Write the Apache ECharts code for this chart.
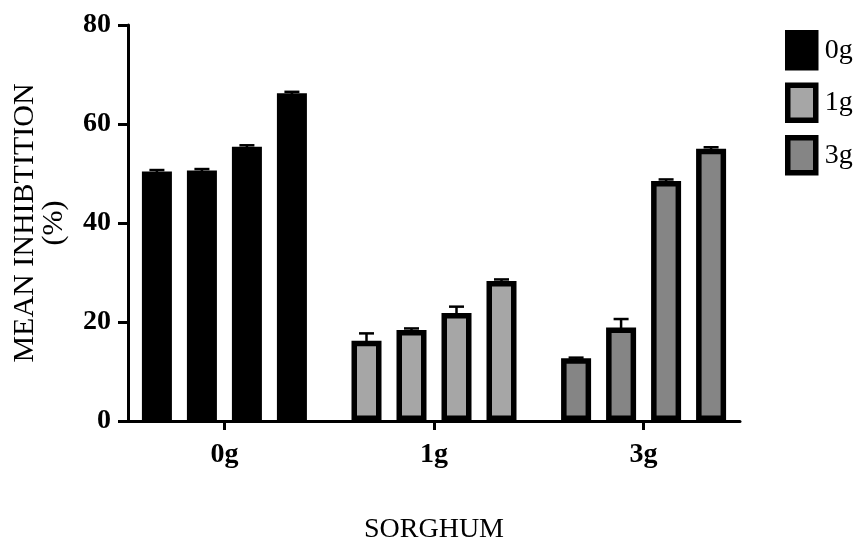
<!DOCTYPE html>
<html>
<head>
<meta charset="utf-8">
<script src="https://cdn.jsdelivr.net/npm/echarts@6/dist/echarts.min.js"></script>
<style>html,body{margin:0;padding:0;background:#fff}#c{width:858px;height:544px}</style>
</head>
<body>
<div id="c"></div>
<script>
// ---- data ----
var groups = ['0g', '1g', '3g'];
var groupColors = ['#000000', '#a6a6a6', '#858585'];
// mean inhibition (%) per group, 4 bars each
var means0g = [50.4, 50.6, 55.4, 66.2];
var means1g = [16.2, 18.4, 21.8, 28.3];
var means3g = [12.7, 18.9, 48.5, 55.0];
// error (upper SEM)
var err0g = [0.3, 0.3, 0.3, 0.3];
var err1g = [1.5, 0.3, 1.3, 0.3];
var err3g = [0.1, 1.7, 0.3, 0.3];
var yTicks = [0, 20, 40, 60, 80];

var FONT = '"Liberation Serif", "Times New Roman", serif';
var BAR_W = 30, BAR_GAP = 0.5, BORDER = 5.5;

var means = [means0g, means1g, means3g];
var errs = [err0g, err1g, err3g];

var series = [];
for (var b = 0; b < 4; b++) {
  series.push({
    type: 'bar',
    name: 'bar' + b,
    barWidth: BAR_W,
    barGap: (BAR_GAP * 100) + '%',
    xAxisIndex: 0,
    data: groups.map(function (g, gi) {
      return {
        value: [gi, means[gi][b]],
        itemStyle: { color: groupColors[gi], borderColor: '#000', borderWidth: BORDER }
      };
    }),
    z: 2
  });
}
var errData = [];
groups.forEach(function (g, gi) {
  for (var b = 0; b < 4; b++) errData.push([gi, means[gi][b], errs[gi][b], b]);
});
series.push({
  type: 'custom',
  xAxisIndex: 0,
  z: 5,
  data: errData,
  renderItem: function (params, api) {
    var step = BAR_W * (1 + BAR_GAP);
    var off = (api.value(3) - 1.5) * step;
    var base = api.coord([api.value(0), api.value(1)]);
    var top = api.coord([api.value(0), api.value(1) + api.value(2)]);
    var x = base[0] + off;
    var st = { stroke: '#000', lineWidth: 2.5 };
    return {
      type: 'group',
      children: [
        { type: 'line', shape: { x1: x, y1: base[1] + 3, x2: x, y2: top[1] }, style: st },
        { type: 'line', shape: { x1: x - 7.5, y1: top[1], x2: x + 7.5, y2: top[1] }, style: st }
      ]
    };
  }
});
// legend entries
groups.forEach(function (g, gi) {
  series.push({
    type: 'bar', name: g, xAxisIndex: 1, data: [],
    itemStyle: { color: groupColors[gi], borderColor: '#000', borderWidth: BORDER }
  });
});

var chart = echarts.init(document.getElementById('c'), null, { renderer: 'canvas' });
chart.setOption({
  animation: false,
  backgroundColor: '#fff',
  grid: { left: 128, right: 118, top: 25, bottom: 123, containLabel: false, outerBoundsMode: 'none' },
  legend: {
    data: groups,
    orient: 'vertical',
    left: 785, top: 30,
    padding: 0,
    icon: 'rect',
    itemWidth: 28, itemHeight: 35, itemGap: 12,
    itemStyle: { borderWidth: BORDER, borderColor: '#000' },
    textStyle: { fontFamily: FONT, fontSize: 28, color: '#000', padding: [0, 0, 0, 4] }
  },
  xAxis: [{
    type: 'value',
    min: -0.46, max: 2.46,
    name: 'SORGHUM',
    nameLocation: 'middle',
    nameGap: 95,
    nameTextStyle: { fontFamily: FONT, fontSize: 28, color: '#000' },
    axisLine: { show: true, onZero: false, lineStyle: { color: '#000', width: 3 } },
    axisTick: { show: true, customValues: [0, 1, 2], length: 9, lineStyle: { color: '#000', width: 3 } },
    axisLabel: {
      customValues: [0, 1, 2],
      formatter: function (v) { return groups[Math.round(v)]; },
      fontFamily: FONT, fontSize: 28, fontWeight: 'bold', color: '#000', margin: 20
    },
    splitLine: { show: false }
  }, {
    type: 'category', show: false, data: []
  }],
  yAxis: {
    type: 'value',
    min: yTicks[0], max: yTicks[yTicks.length - 1], interval: 20,
    name: 'MEAN INHIBTITION\n(%)',
    nameLocation: 'middle',
    nameGap: 59,
    nameRotate: 90,
    nameTextStyle: { fontFamily: FONT, fontSize: 30, color: '#000', lineHeight: 29 },
    axisLine: { show: true, onZero: false, lineStyle: { color: '#000', width: 3 } },
    axisTick: { show: true, length: 10, lineStyle: { color: '#000', width: 3 } },
    axisLabel: { fontFamily: FONT, fontSize: 28, fontWeight: 'bold', color: '#000', margin: 17 },
    splitLine: { show: false }
  },
  series: series
});
</script>
</body>
</html>
